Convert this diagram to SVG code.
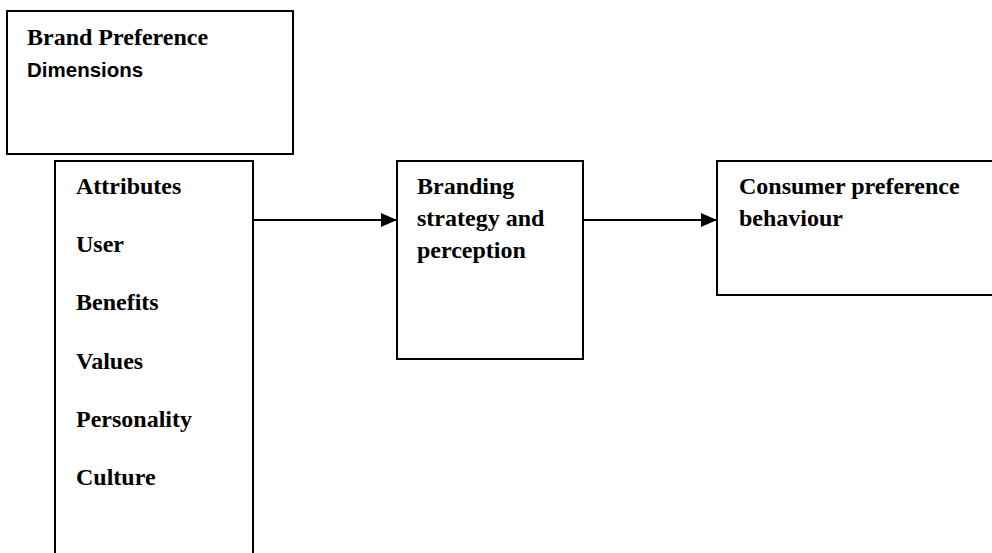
<svg xmlns="http://www.w3.org/2000/svg" width="992" height="553" viewBox="0 0 992 553">
  <style>
    .box { fill: #ffffff; stroke: #000000; stroke-width: 2; }
    .t { font-family: "Liberation Serif", "Times New Roman", serif; font-weight: bold; font-size: 24px; fill: #000000; }
    .s { font-family: "Liberation Sans", Arial, sans-serif; font-weight: bold; font-size: 20.5px; fill: #000000; }
    .conn { stroke: #000000; stroke-width: 2; fill: none; }
  </style>
  <defs>
    <marker id="arrow" markerWidth="16" markerHeight="14" refX="16" refY="7" orient="auto" markerUnits="userSpaceOnUse">
      <path d="M0,0 L16,7 L0,14 Z" fill="#000000"/>
    </marker>
  </defs>
  <rect width="992" height="553" fill="#ffffff"/>

  <g id="node-dimensions">
    <rect class="box" x="7" y="11" width="286" height="143"/>
    <text class="t" x="27" y="45">Brand Preference</text>
    <text class="s" x="27" y="77">Dimensions</text>
  </g>

  <g id="node-attributes">
    <rect class="box" x="55" y="161" width="198" height="410"/>
    <text class="t" x="76" y="194">Attributes</text>
    <text class="t" x="76" y="252">User</text>
    <text class="t" x="76" y="310">Benefits</text>
    <text class="t" x="76" y="369">Values</text>
    <text class="t" x="76" y="427">Personality</text>
    <text class="t" x="76" y="485">Culture</text>
  </g>

  <g id="node-branding">
    <rect class="box" x="397" y="161" width="186" height="198"/>
    <text class="t" x="417" y="194">Branding</text>
    <text class="t" x="417" y="226">strategy and</text>
    <text class="t" x="417" y="258">perception</text>
  </g>

  <g id="node-consumer">
    <rect class="box" x="717" y="161" width="290" height="134"/>
    <text class="t" x="739" y="194">Consumer preference</text>
    <text class="t" x="739" y="226">behaviour</text>
  </g>

  <g id="connectors">
    <line class="conn" x1="253" y1="220" x2="397" y2="220" marker-end="url(#arrow)"/>
    <line class="conn" x1="583" y1="220" x2="717" y2="220" marker-end="url(#arrow)"/>
  </g>
</svg>
